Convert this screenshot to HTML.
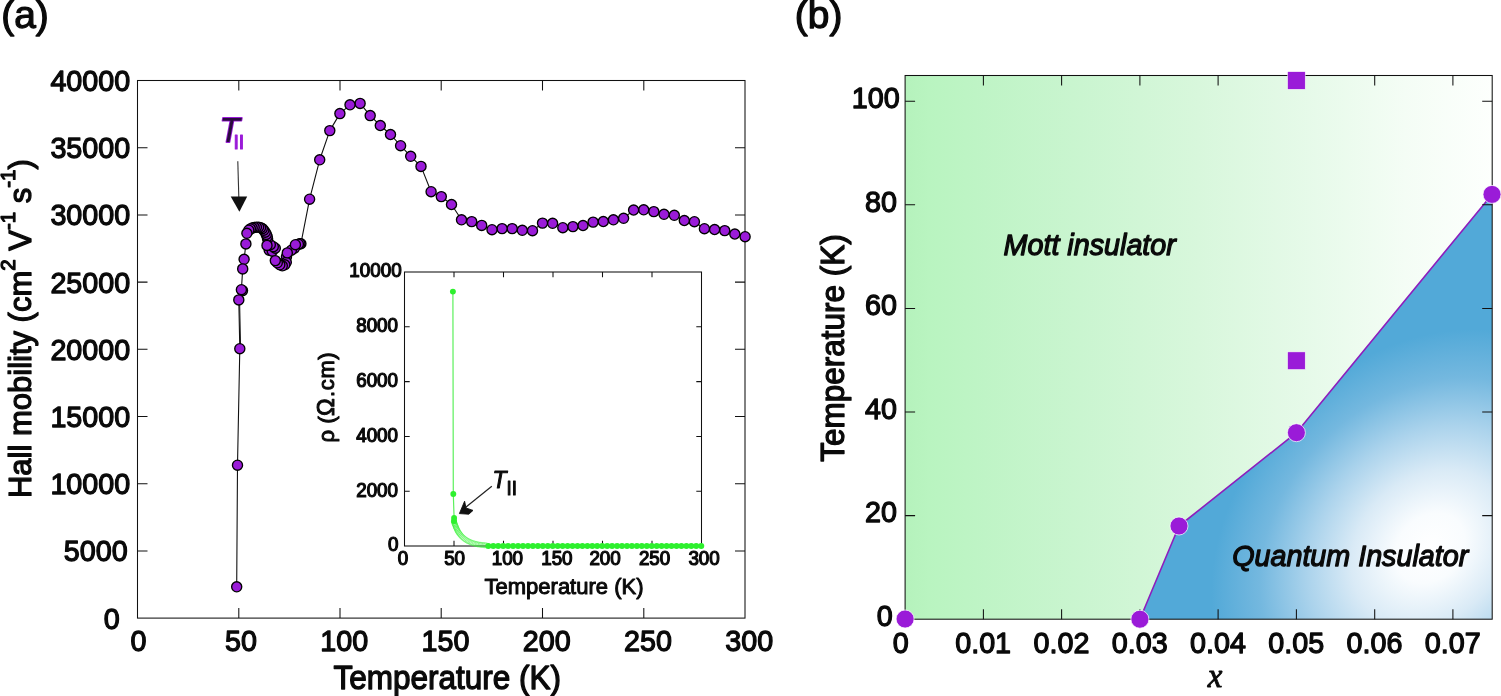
<!DOCTYPE html>
<html lang="en"><head><meta charset="utf-8"><title>Hall mobility and phase diagram</title>
<style>
html,body{margin:0;padding:0;background:#fff;}
body{width:1501px;height:696px;overflow:hidden;}
svg{display:block;}
text{font-family:'Liberation Sans', sans-serif;fill:#0a0a0a;stroke:#0a0a0a;stroke-width:1.25px;stroke-linejoin:round;}
.tk{font-size:28.7px;}
.ttl{font-size:31.5px;}
.pl{font-size:38.9px;}
.itk{font-size:18.8px;stroke-width:1.2px;}
.ittl{font-size:22px;stroke-width:1px;}
.reg{font-size:28.7px;font-style:italic;}
.axl{stroke:#111111;stroke-width:1.05;fill:none;}
.pt{fill:#9a1bd8;stroke:#000;stroke-width:1.35;}
.bp{fill:#9a1bd8;stroke:#fff;stroke-width:0.7;}
</style></head><body>
<svg width="1501" height="696" viewBox="0 0 1501 696" role="img" aria-label="Hall mobility versus temperature and phase diagram">
<defs>
<linearGradient id="gg" x1="0" y1="0" x2="1" y2="0">
<stop offset="0" stop-color="#b5f2bc"/>
<stop offset="0.04" stop-color="#b9f4c0"/>
<stop offset="0.12" stop-color="#bef4c5"/>
<stop offset="0.3" stop-color="#caf5d0"/>
<stop offset="0.5" stop-color="#d8f7dc"/>
<stop offset="0.7" stop-color="#e7faea"/>
<stop offset="0.85" stop-color="#f4fdf5"/>
<stop offset="1" stop-color="#fdfffd"/>
</linearGradient>
<radialGradient id="bg2" gradientUnits="userSpaceOnUse" cx="0" cy="0" r="1" gradientTransform="translate(1430 548) rotate(-45) scale(240 195)">
<stop offset="0" stop-color="#ffffff"/>
<stop offset="0.16" stop-color="#f9fcfe"/>
<stop offset="0.36" stop-color="#d9eaf6"/>
<stop offset="0.56" stop-color="#abd3ec"/>
<stop offset="0.78" stop-color="#74b8df"/>
<stop offset="1" stop-color="#52a9d8"/>
</radialGradient>
</defs>
<rect x="0" y="0" width="1501" height="696" fill="#ffffff"/>
<g id="panel-a">
<text class="pl" transform="translate(1.20 28.40) scale(1 1)">(a)</text>
<rect class="axl" x="137.5" y="80.5" width="607.5" height="537.6"/>
<path class="axl" d="M238.8 618.1v-10.0M238.8 80.5v10.0M340.0 618.1v-10.0M340.0 80.5v10.0M441.2 618.1v-10.0M441.2 80.5v10.0M542.5 618.1v-10.0M542.5 80.5v10.0M643.8 618.1v-10.0M643.8 80.5v10.0M137.5 550.9h10.0M745.0 550.9h-10.0M137.5 483.7h10.0M745.0 483.7h-10.0M137.5 416.5h10.0M745.0 416.5h-10.0M137.5 349.3h10.0M745.0 349.3h-10.0M137.5 282.1h10.0M745.0 282.1h-10.0M137.5 214.9h10.0M745.0 214.9h-10.0M137.5 147.7h10.0M745.0 147.7h-10.0"/>
<text class="tk" text-anchor="end" transform="translate(119.80 628.50) scale(1 1.03)">0</text>
<text class="tk" text-anchor="end" transform="translate(127.60 561.30) scale(1 1.03)">5000</text>
<text class="tk" text-anchor="end" transform="translate(130.20 494.10) scale(1 1.03)">10000</text>
<text class="tk" text-anchor="end" transform="translate(130.20 426.90) scale(1 1.03)">15000</text>
<text class="tk" text-anchor="end" transform="translate(130.20 359.70) scale(1 1.03)">20000</text>
<text class="tk" text-anchor="end" transform="translate(130.20 292.50) scale(1 1.03)">25000</text>
<text class="tk" text-anchor="end" transform="translate(130.20 225.30) scale(1 1.03)">30000</text>
<text class="tk" text-anchor="end" transform="translate(130.20 158.10) scale(1 1.03)">35000</text>
<text class="tk" text-anchor="end" transform="translate(130.20 90.90) scale(1 1.03)">40000</text>
<text class="tk" text-anchor="middle" transform="translate(138.50 651.30) scale(1 1.03)">0</text>
<text class="tk" text-anchor="middle" transform="translate(240.95 651.30) scale(1 1.03)">50</text>
<text class="tk" text-anchor="middle" transform="translate(344.20 651.30) scale(1 1.03)">100</text>
<text class="tk" text-anchor="middle" transform="translate(445.45 651.30) scale(1 1.03)">150</text>
<text class="tk" text-anchor="middle" transform="translate(546.70 651.30) scale(1 1.03)">200</text>
<text class="tk" text-anchor="middle" transform="translate(647.95 651.30) scale(1 1.03)">250</text>
<text class="tk" text-anchor="middle" transform="translate(749.20 651.30) scale(1 1.03)">300</text>
<text class="ttl" text-anchor="middle" transform="translate(447.20 689.00) scale(1 1.03)">Temperature (K)</text>
<text class="ttl" text-anchor="middle" style="font-size:31px" transform="translate(30.60 328.60) rotate(-90) scale(1 1.03)">Hall mobility (cm<tspan dy="-15" style="font-size:20.5px">2</tspan><tspan dy="15"> V</tspan><tspan dy="-15" style="font-size:20.5px">-1</tspan><tspan dy="15"> s</tspan><tspan dy="-15" style="font-size:20.5px">-1</tspan><tspan dy="15">)</tspan></text>
<polyline fill="none" stroke="#111" stroke-width="1.1" stroke-linejoin="round" points="236.7,586.8 237.5,465.2 239.8,348.7 238.8,299.9 241.4,289.7 242.7,268.9 244.1,259.3 245.9,243.9 246.9,233.3 248.8,230.2 250.4,228.9 252.2,228.0 254.2,227.4 256.4,227.1 258.6,227.1 260.6,227.6 262.3,228.6 263.8,230.2 265.2,232.2 266.3,234.4 267.2,236.6 267.6,239.0 267.0,245.4 270.3,244.7 273.3,246.7 275.3,248.2 272.3,251.2 269.2,250.2 275.3,260.6 277.3,262.8 279.8,264.8 282.3,265.8 284.8,264.8 286.3,262.3 286.5,256.8 287.3,252.9 291.4,250.2 294.4,248.2 295.4,244.7 298.4,244.2 299.9,243.7 300.9,243.7 309.6,199.2 319.7,159.8 329.8,130.6 339.9,113.6 350.0,104.8 360.1,103.4 370.2,115.6 380.3,125.5 390.5,134.5 400.6,145.7 410.7,156.3 421.0,166.4 431.1,191.7 441.3,196.6 451.5,204.5 461.5,219.8 471.7,221.6 481.7,225.4 492.0,229.7 502.1,228.6 512.2,228.6 522.3,230.3 532.5,230.7 542.5,223.1 552.6,223.3 562.8,227.7 572.9,226.6 583.0,225.5 593.1,222.1 603.3,221.5 613.4,219.8 623.6,218.3 633.6,210.0 643.7,209.8 653.8,211.6 664.0,214.3 674.3,215.3 684.3,220.5 694.4,221.7 704.4,228.7 714.6,229.5 724.7,230.6 734.8,234.0 745.1,236.7"/>
<path d="M239.6 300.5L240.6 348.5" stroke="#111" stroke-width="1" fill="none"/>
<g class="pt">
<circle cx="242.5" cy="290.6" r="5.05"/>
<circle cx="745.1" cy="236.7" r="5.05"/>
<circle cx="734.8" cy="234.0" r="5.05"/>
<circle cx="724.7" cy="230.6" r="5.05"/>
<circle cx="714.6" cy="229.5" r="5.05"/>
<circle cx="704.4" cy="228.7" r="5.05"/>
<circle cx="694.4" cy="221.7" r="5.05"/>
<circle cx="684.3" cy="220.5" r="5.05"/>
<circle cx="674.3" cy="215.3" r="5.05"/>
<circle cx="664.0" cy="214.3" r="5.05"/>
<circle cx="653.8" cy="211.6" r="5.05"/>
<circle cx="643.7" cy="209.8" r="5.05"/>
<circle cx="633.6" cy="210.0" r="5.05"/>
<circle cx="623.6" cy="218.3" r="5.05"/>
<circle cx="613.4" cy="219.8" r="5.05"/>
<circle cx="603.3" cy="221.5" r="5.05"/>
<circle cx="593.1" cy="222.1" r="5.05"/>
<circle cx="583.0" cy="225.5" r="5.05"/>
<circle cx="572.9" cy="226.6" r="5.05"/>
<circle cx="562.8" cy="227.7" r="5.05"/>
<circle cx="552.6" cy="223.3" r="5.05"/>
<circle cx="542.5" cy="223.1" r="5.05"/>
<circle cx="532.5" cy="230.7" r="5.05"/>
<circle cx="522.3" cy="230.3" r="5.05"/>
<circle cx="512.2" cy="228.6" r="5.05"/>
<circle cx="502.1" cy="228.6" r="5.05"/>
<circle cx="492.0" cy="229.7" r="5.05"/>
<circle cx="481.7" cy="225.4" r="5.05"/>
<circle cx="471.7" cy="221.6" r="5.05"/>
<circle cx="461.5" cy="219.8" r="5.05"/>
<circle cx="451.5" cy="204.5" r="5.05"/>
<circle cx="441.3" cy="196.6" r="5.05"/>
<circle cx="431.1" cy="191.7" r="5.05"/>
<circle cx="421.0" cy="166.4" r="5.05"/>
<circle cx="410.7" cy="156.3" r="5.05"/>
<circle cx="400.6" cy="145.7" r="5.05"/>
<circle cx="390.5" cy="134.5" r="5.05"/>
<circle cx="380.3" cy="125.5" r="5.05"/>
<circle cx="370.2" cy="115.6" r="5.05"/>
<circle cx="360.1" cy="103.4" r="5.05"/>
<circle cx="350.0" cy="104.8" r="5.05"/>
<circle cx="339.9" cy="113.6" r="5.05"/>
<circle cx="329.8" cy="130.6" r="5.05"/>
<circle cx="319.7" cy="159.8" r="5.05"/>
<circle cx="309.6" cy="199.2" r="5.05"/>
<circle cx="300.9" cy="243.7" r="5.05"/>
<circle cx="299.9" cy="243.7" r="5.05"/>
<circle cx="298.4" cy="244.2" r="5.05"/>
<circle cx="294.4" cy="248.2" r="5.05"/>
<circle cx="291.4" cy="250.2" r="5.05"/>
<circle cx="286.5" cy="256.8" r="5.05"/>
<circle cx="286.3" cy="262.3" r="5.05"/>
<circle cx="284.8" cy="264.8" r="5.05"/>
<circle cx="282.3" cy="265.8" r="5.05"/>
<circle cx="279.8" cy="264.8" r="5.05"/>
<circle cx="277.3" cy="262.8" r="5.05"/>
<circle cx="269.2" cy="250.2" r="5.05"/>
<circle cx="272.3" cy="251.2" r="5.05"/>
<circle cx="275.3" cy="248.2" r="5.05"/>
<circle cx="273.3" cy="246.7" r="5.05"/>
<circle cx="270.3" cy="244.7" r="5.05"/>
<circle cx="267.6" cy="239.0" r="5.05"/>
<circle cx="267.2" cy="236.6" r="5.05"/>
<circle cx="266.3" cy="234.4" r="5.05"/>
<circle cx="265.2" cy="232.2" r="5.05"/>
<circle cx="263.8" cy="230.2" r="5.05"/>
<circle cx="262.3" cy="228.6" r="5.05"/>
<circle cx="260.6" cy="227.6" r="5.05"/>
<circle cx="258.6" cy="227.1" r="5.05"/>
<circle cx="256.4" cy="227.1" r="5.05"/>
<circle cx="254.2" cy="227.4" r="5.05"/>
<circle cx="252.2" cy="228.0" r="5.05"/>
<circle cx="250.4" cy="228.9" r="5.05"/>
<circle cx="248.8" cy="230.2" r="5.05"/>
<circle cx="295.4" cy="244.7" r="5.05"/>
<circle cx="287.3" cy="252.9" r="5.05"/>
<circle cx="275.3" cy="260.6" r="5.05"/>
<circle cx="267.0" cy="245.4" r="5.05"/>
<circle cx="246.9" cy="233.3" r="5.05"/>
<circle cx="245.9" cy="243.9" r="5.05"/>
<circle cx="244.1" cy="259.3" r="5.05"/>
<circle cx="242.7" cy="268.9" r="5.05"/>
<circle cx="241.4" cy="289.7" r="5.05"/>
<circle cx="238.8" cy="299.9" r="5.05"/>
<circle cx="239.8" cy="348.7" r="5.05"/>
<circle cx="237.5" cy="465.2" r="5.05"/>
<circle cx="236.7" cy="586.8" r="5.05"/>
</g>
<text style="font-size:33.4px;font-style:italic;fill:#2a0b3e;stroke:#9a1bd8;stroke-width:1.7px;paint-order:stroke" transform="translate(219.60 142.30) scale(1 1.03)">T<tspan dy="6.6" dx="-6.6" style="font-size:19.5px;font-style:normal;fill:#9a1bd8;stroke-width:1.1px">II</tspan></text>
<path d="M237.8 161.2L238.8 197" stroke="#333" stroke-width="1.1" fill="none"/>
<path d="M230.7 196.6L247.2 196.6L239.4 211.8Z" fill="#111"/>
<g id="inset">
<rect class="axl" x="404.5" y="272.0" width="297.0" height="274.0" style="fill:#fff;stroke:#111"/>
<path class="axl" d="M454.0 546.0v-5.2M454.0 272.0v5.2M503.5 546.0v-5.2M503.5 272.0v5.2M553.0 546.0v-5.2M553.0 272.0v5.2M602.5 546.0v-5.2M602.5 272.0v5.2M652.0 546.0v-5.2M652.0 272.0v5.2M404.5 491.2h5.2M701.5 491.2h-5.2M404.5 436.4h5.2M701.5 436.4h-5.2M404.5 381.6h5.2M701.5 381.6h-5.2M404.5 326.8h5.2M701.5 326.8h-5.2"/>
<text class="itk" text-anchor="end" transform="translate(398.40 550.50) scale(1 1.03)">0</text>
<text class="itk" text-anchor="end" transform="translate(398.00 496.60) scale(1 1.03)">2000</text>
<text class="itk" text-anchor="end" transform="translate(398.00 441.80) scale(1 1.03)">4000</text>
<text class="itk" text-anchor="end" transform="translate(398.00 387.00) scale(1 1.03)">6000</text>
<text class="itk" text-anchor="end" transform="translate(398.00 332.20) scale(1 1.03)">8000</text>
<text class="itk" text-anchor="end" transform="translate(401.60 277.40) scale(1 1.03)">10000</text>
<text class="itk" text-anchor="middle" transform="translate(403.00 565.00) scale(1 1.03)">0</text>
<text class="itk" text-anchor="middle" transform="translate(454.60 565.00) scale(1 1.03)">50</text>
<text class="itk" text-anchor="middle" transform="translate(507.40 565.00) scale(1 1.03)">100</text>
<text class="itk" text-anchor="middle" transform="translate(556.90 565.00) scale(1 1.03)">150</text>
<text class="itk" text-anchor="middle" transform="translate(605.10 565.00) scale(1 1.03)">200</text>
<text class="itk" text-anchor="middle" transform="translate(654.60 565.00) scale(1 1.03)">250</text>
<text class="itk" text-anchor="middle" transform="translate(704.10 565.00) scale(1 1.03)">300</text>
<text class="ittl" text-anchor="middle" transform="translate(564.00 593.50) scale(1 1.03)">Temperature (K)</text>
<text class="ittl" transform="translate(334.20 442.60) rotate(-90) scale(1 1.03)">ρ <tspan dx="0.6">(</tspan><tspan style="font-size:23.6px">Ω</tspan><tspan dx="1.4" style="letter-spacing:0.65px">.cm)</tspan></text>
<path d="M452.9 291.6L453.3 494L454.1 518" stroke="#5cf05c" stroke-width="1.2" fill="none"/>
<g fill="none" stroke="#3df23d" stroke-width="0.8">
<circle cx="454.0" cy="521.6" r="2.55" stroke-opacity="1.00"/>
<circle cx="454.4" cy="523.0" r="2.55" stroke-opacity="0.96"/>
<circle cx="454.9" cy="524.4" r="2.55" stroke-opacity="0.93"/>
<circle cx="455.4" cy="525.7" r="2.55" stroke-opacity="0.89"/>
<circle cx="455.9" cy="527.1" r="2.55" stroke-opacity="0.85"/>
<circle cx="456.5" cy="528.4" r="2.55" stroke-opacity="0.82"/>
<circle cx="457.1" cy="529.7" r="2.55" stroke-opacity="0.78"/>
<circle cx="457.7" cy="531.0" r="2.55" stroke-opacity="0.74"/>
<circle cx="458.5" cy="532.3" r="2.55" stroke-opacity="0.71"/>
<circle cx="459.3" cy="533.4" r="2.55" stroke-opacity="0.67"/>
<circle cx="460.2" cy="534.6" r="2.55" stroke-opacity="0.63"/>
<circle cx="461.1" cy="535.7" r="2.55" stroke-opacity="0.60"/>
<circle cx="462.1" cy="536.8" r="2.55" stroke-opacity="0.56"/>
<circle cx="463.2" cy="537.7" r="2.55" stroke-opacity="0.52"/>
<circle cx="464.3" cy="538.7" r="2.55" stroke-opacity="0.50"/>
<circle cx="465.5" cy="539.5" r="2.55" stroke-opacity="0.50"/>
<circle cx="466.7" cy="540.3" r="2.55" stroke-opacity="0.50"/>
<circle cx="467.9" cy="541.0" r="2.55" stroke-opacity="0.50"/>
<circle cx="469.2" cy="541.6" r="2.55" stroke-opacity="0.50"/>
<circle cx="470.6" cy="542.2" r="2.55" stroke-opacity="0.50"/>
<circle cx="471.9" cy="542.8" r="2.55" stroke-opacity="0.50"/>
<circle cx="473.3" cy="543.2" r="2.55" stroke-opacity="0.50"/>
<circle cx="474.7" cy="543.6" r="2.55" stroke-opacity="0.50"/>
<circle cx="476.1" cy="544.0" r="2.55" stroke-opacity="0.50"/>
<circle cx="477.5" cy="544.3" r="2.55" stroke-opacity="0.50"/>
<circle cx="478.9" cy="544.5" r="2.55" stroke-opacity="0.50"/>
<circle cx="480.4" cy="544.8" r="2.55" stroke-opacity="0.50"/>
<circle cx="481.8" cy="544.9" r="2.55" stroke-opacity="0.50"/>
<circle cx="483.2" cy="545.1" r="2.55" stroke-opacity="0.50"/>
<circle cx="484.7" cy="545.2" r="2.55" stroke-opacity="0.50"/>
<circle cx="486.1" cy="545.3" r="2.55" stroke-opacity="0.50"/>
</g>
<g fill="#2df02d">
<circle cx="488.3" cy="546.0" r="3.05"/>
<circle cx="493.3" cy="546.0" r="3.05"/>
<circle cx="498.2" cy="546.0" r="3.05"/>
<circle cx="503.2" cy="546.0" r="3.05"/>
<circle cx="508.1" cy="546.0" r="3.05"/>
<circle cx="513.1" cy="546.0" r="3.05"/>
<circle cx="518.1" cy="546.0" r="3.05"/>
<circle cx="523.0" cy="546.0" r="3.05"/>
<circle cx="528.0" cy="546.0" r="3.05"/>
<circle cx="532.9" cy="546.0" r="3.05"/>
<circle cx="537.9" cy="546.0" r="3.05"/>
<circle cx="542.8" cy="546.0" r="3.05"/>
<circle cx="547.8" cy="546.0" r="3.05"/>
<circle cx="552.7" cy="546.0" r="3.05"/>
<circle cx="557.7" cy="546.0" r="3.05"/>
<circle cx="562.6" cy="546.0" r="3.05"/>
<circle cx="567.6" cy="546.0" r="3.05"/>
<circle cx="572.5" cy="546.0" r="3.05"/>
<circle cx="577.5" cy="546.0" r="3.05"/>
<circle cx="582.4" cy="546.0" r="3.05"/>
<circle cx="587.4" cy="546.0" r="3.05"/>
<circle cx="592.3" cy="546.0" r="3.05"/>
<circle cx="597.2" cy="546.0" r="3.05"/>
<circle cx="602.2" cy="546.0" r="3.05"/>
<circle cx="607.2" cy="546.0" r="3.05"/>
<circle cx="612.1" cy="546.0" r="3.05"/>
<circle cx="617.1" cy="546.0" r="3.05"/>
<circle cx="622.0" cy="546.0" r="3.05"/>
<circle cx="627.0" cy="546.0" r="3.05"/>
<circle cx="631.9" cy="546.0" r="3.05"/>
<circle cx="636.9" cy="546.0" r="3.05"/>
<circle cx="641.8" cy="546.0" r="3.05"/>
<circle cx="646.8" cy="546.0" r="3.05"/>
<circle cx="651.7" cy="546.0" r="3.05"/>
<circle cx="656.7" cy="546.0" r="3.05"/>
<circle cx="661.6" cy="546.0" r="3.05"/>
<circle cx="666.6" cy="546.0" r="3.05"/>
<circle cx="671.5" cy="546.0" r="3.05"/>
<circle cx="676.5" cy="546.0" r="3.05"/>
<circle cx="681.4" cy="546.0" r="3.05"/>
<circle cx="686.4" cy="546.0" r="3.05"/>
<circle cx="691.3" cy="546.0" r="3.05"/>
<circle cx="696.2" cy="546.0" r="3.05"/>
<circle cx="701.2" cy="546.0" r="3.05"/>
<circle cx="454.0" cy="521.0" r="2.95"/>
<circle cx="454.1" cy="517.9" r="2.95"/>
<circle cx="453.3" cy="494.0" r="2.95"/>
<circle cx="452.9" cy="291.6" r="2.95"/>
</g>
<text style="font-size:22.8px;font-style:italic;stroke-width:1px" transform="translate(492.60 488.40) scale(1 1.03)">T<tspan dy="6.7" dx="0" style="font-size:18.8px;font-style:normal">II</tspan></text>
<path d="M491.8 486.3L464.5 508.3" stroke="#222" stroke-width="1.2" fill="none"/>
<path d="M459.4 513.6L464.6 501.2L466.0 508.0L473.0 510.4L468.8 514.2Z" fill="#111" stroke="#111" stroke-width="0.9" stroke-linejoin="miter"/>
</g>
</g>
<g id="panel-b">
<text class="pl" transform="translate(794.80 28.40) scale(1 1)">(b)</text>
<rect x="905.1" y="75.5" width="587.1" height="543.7" fill="url(#gg)"/>
<path d="M1139.9 619.2 L1179.0 526.0 L1296.4 432.7 L1492.0 194.4 L1492.2 619.2Z" fill="url(#bg2)"/>
<polyline points="1139.9,619.2 1179.0,526.0 1296.4,432.7 1492.0,194.4" fill="none" stroke="#8d1dbd" stroke-width="1.6" stroke-linejoin="round"/>
<rect class="axl" x="905.1" y="75.5" width="587.1" height="543.7"/>
<path class="axl" d="M983.4 619.2v-10.0M983.4 75.5v10.0M1061.6 619.2v-10.0M1061.6 75.5v10.0M1139.9 619.2v-10.0M1139.9 75.5v10.0M1218.1 619.2v-10.0M1218.1 75.5v10.0M1296.4 619.2v-10.0M1296.4 75.5v10.0M1374.7 619.2v-10.0M1374.7 75.5v10.0M1452.9 619.2v-10.0M1452.9 75.5v10.0M905.1 515.6h10.0M1492.2 515.6h-10.0M905.1 412.0h10.0M1492.2 412.0h-10.0M905.1 308.4h10.0M1492.2 308.4h-10.0M905.1 204.8h10.0M1492.2 204.8h-10.0M905.1 101.2h10.0M1492.2 101.2h-10.0"/>
<text class="tk" text-anchor="end" transform="translate(892.80 625.90) scale(1 1.03)">0</text>
<text class="tk" text-anchor="end" transform="translate(896.90 522.30) scale(1 1.03)">20</text>
<text class="tk" text-anchor="end" transform="translate(896.90 418.70) scale(1 1.03)">40</text>
<text class="tk" text-anchor="end" transform="translate(896.90 315.10) scale(1 1.03)">60</text>
<text class="tk" text-anchor="end" transform="translate(896.90 211.50) scale(1 1.03)">80</text>
<text class="tk" text-anchor="end" transform="translate(899.60 107.90) scale(1 1.03)">100</text>
<text class="tk" text-anchor="middle" transform="translate(900.80 652.70) scale(1 1.03)">0</text>
<text class="tk" text-anchor="middle" transform="translate(983.16 652.70) scale(1 1.03)">0.01</text>
<text class="tk" text-anchor="middle" transform="translate(1061.42 652.70) scale(1 1.03)">0.02</text>
<text class="tk" text-anchor="middle" transform="translate(1139.68 652.70) scale(1 1.03)">0.03</text>
<text class="tk" text-anchor="middle" transform="translate(1217.94 652.70) scale(1 1.03)">0.04</text>
<text class="tk" text-anchor="middle" transform="translate(1296.20 652.70) scale(1 1.03)">0.05</text>
<text class="tk" text-anchor="middle" transform="translate(1374.46 652.70) scale(1 1.03)">0.06</text>
<text class="tk" text-anchor="middle" transform="translate(1452.72 652.70) scale(1 1.03)">0.07</text>
<text text-anchor="middle" style="font-family:'Liberation Serif', serif;font-style:italic;font-size:33px;stroke-width:0.9px" transform="translate(1215.20 686.70) scale(1 1)">x</text>
<text class="ttl" text-anchor="middle" transform="translate(843.70 348.00) rotate(-90) scale(1 1.03)">Temperature (K)</text>
<text class="reg" transform="translate(1003.60 254.60) scale(1 1.03)">Mott insulator</text>
<text class="reg" transform="translate(1232.20 566.40) scale(1 1.03)">Quantum Insulator</text>
<rect x="1287.6" y="71.7" width="17.6" height="17.6" fill="#9a1bd8" stroke="#fff" stroke-width="0.5"/>
<rect x="1287.6" y="351.9" width="17.6" height="17.6" fill="#9a1bd8" stroke="#fff" stroke-width="0.5"/>
<circle class="bp" cx="905.1" cy="619.0" r="9"/>
<circle class="bp" cx="1139.9" cy="619.2" r="9"/>
<circle class="bp" cx="1179.0" cy="526.0" r="9"/>
<circle class="bp" cx="1296.4" cy="432.7" r="9"/>
<circle class="bp" cx="1492.0" cy="194.4" r="9"/>
</g>
</svg>
</body></html>
